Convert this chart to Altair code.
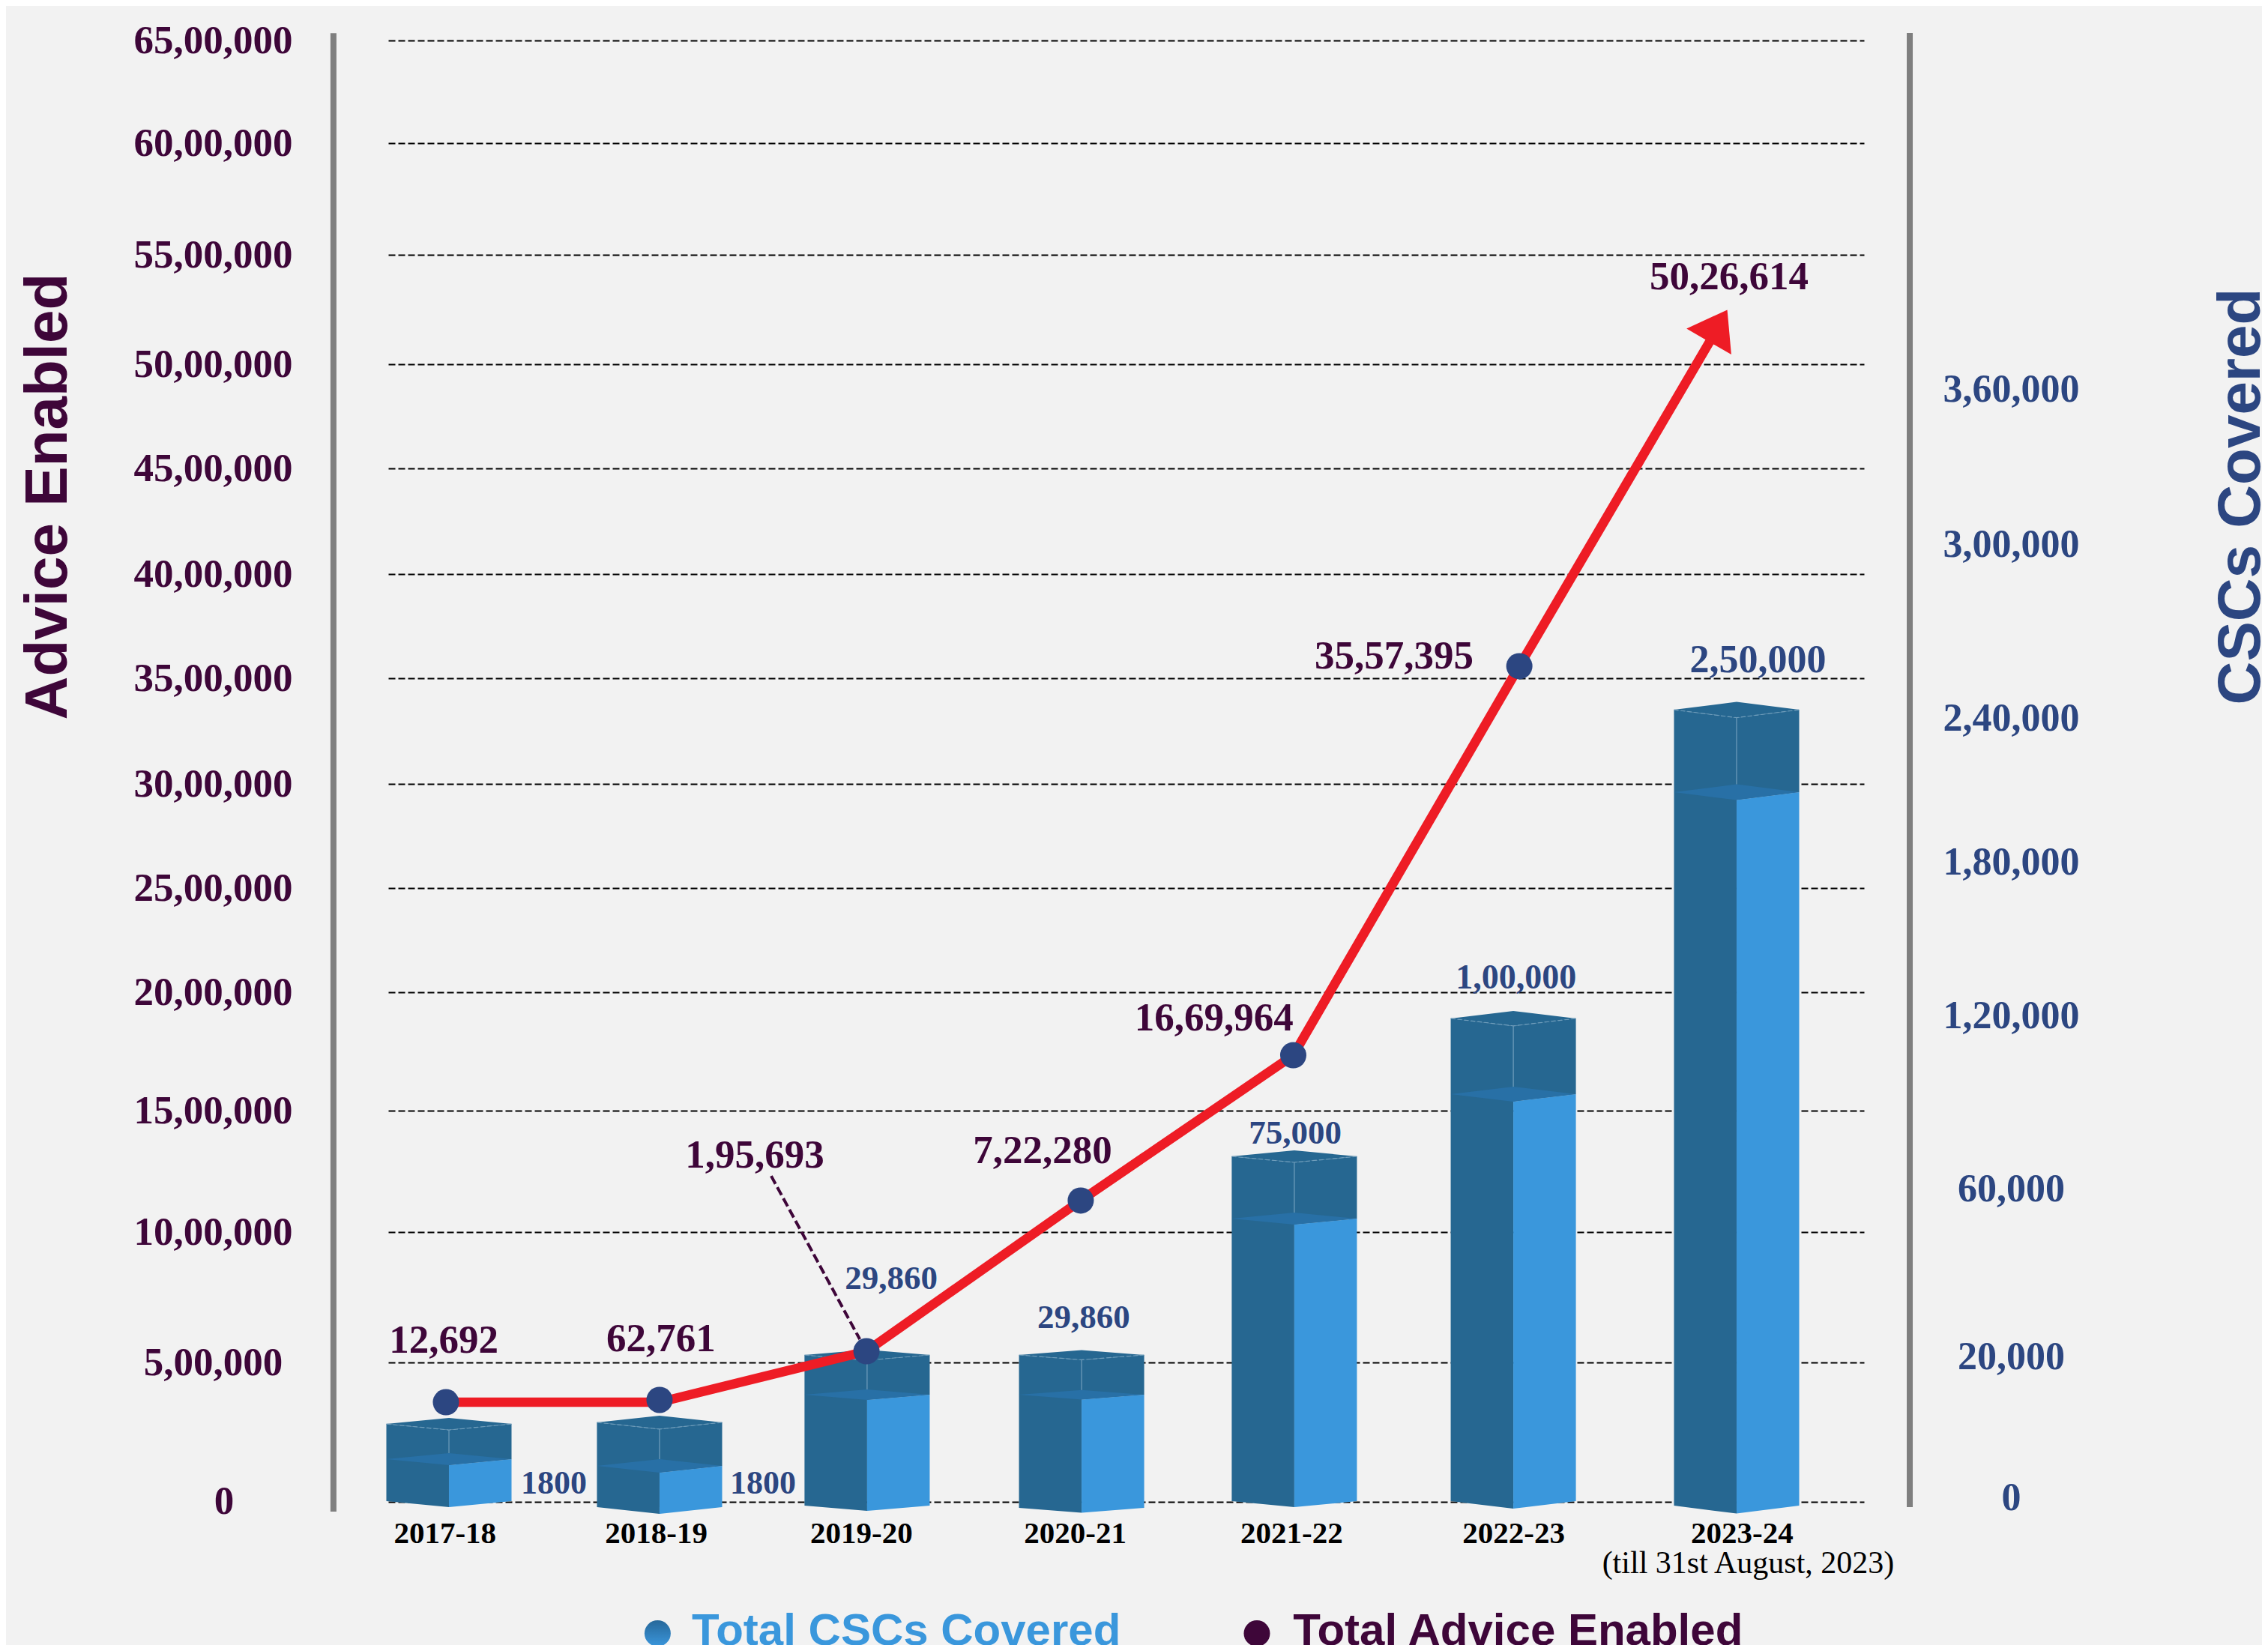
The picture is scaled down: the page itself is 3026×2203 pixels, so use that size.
import altair as alt
import pandas as pd

SERIF = "Liberation Serif"
SANS = "Liberation Sans"
PURPLE = "#3e0639"
NAVY = "#2c4681"
RED = "#ee1c25"
DARK = "#266791"
LIGHT = "#3a97dc"
MID = "#2870a6"
GRAY = "#7f7f7f"
BG = "#f2f2f2"

years = ["2017-18", "2018-19", "2019-20", "2020-21", "2021-22", "2022-23", "2023-24"]
year_pos = [-0.02, 0.962, 1.916, 2.91, 3.916, 4.948, 6.01]

left_ticks = [0, 500000, 1000000, 1500000, 2000000, 2500000, 3000000, 3500000, 4000000,
              4500000, 5000000, 5500000, 6000000, 6500000]
left_labels = ["", "5,00,000", "10,00,000", "15,00,000", "20,00,000", "25,00,000", "30,00,000",
               "35,00,000", "40,00,000", "45,00,000", "50,00,000", "55,00,000", "60,00,000", "65,00,000"]
left_range = [1950, 1764, 1590, 1428, 1270, 1131, 992, 851, 712, 571, 432, 286, 137, 0]

right_ticks = [0, 20000, 60000, 120000, 180000, 240000, 300000, 360000]
right_labels = ["0", "20,000", "60,000", "1,20,000", "1,80,000", "2,40,000", "3,00,000", "3,60,000"]
right_range = [1944, 1756, 1532, 1301, 1096, 904, 672, 465]

# bar geometry, heights in percent of plot height
bar_center = [0, 0.979, 1.944, 2.941, 3.93, 4.948, 5.986]
bar_half = [0.291] * 7
bar_top = [5.33, 5.44, 10.05, 10.05, 23.64, 33.08, 54.2]
bar_fill = [2.92, 2.46, 7.33, 7.33, 19.38, 27.9, 48.56]
bar_base = [0.05, -0.36, -0.26, -0.41, 0.05, 0.05, -0.26]
bar_slant = [0.41, 0.46, 0.36, 0.33, 0.41, 0.51, 0.54]

# line, positions read on the left axis
line_x = [-0.014, 0.979, 1.941, 2.937, 3.925, 4.976, 5.861]
line_y = [357500, 357500, 543000, 1130000, 1734000, 3558000, 5103000]
point_x = [-0.014, 0.979, 1.941, 2.937, 3.925, 4.976]
point_y = [357500, 365600, 543000, 1130000, 1734000, 3558000]
arrow_x = [5.9]
arrow_y = [5176000]
leader_x = [1.498, 1.91]
leader_y = [1231000, 589000]

advice_text = ["12,692", "62,761", "1,95,693", "7,22,280", "16,69,964", "35,57,395", "50,26,614"]
advice_x = [-0.024, 0.986, 1.422, 2.76, 3.557, 4.394, 5.951]
advice_h = [11.03, 11.13, 23.69, 24.0, 33.08, 57.85, 83.82]

csc_text = ["1800", "1800", "29,860", "29,860", "75,000", "1,00,000", "2,50,000"]
csc_x = [0.488, 1.46, 2.056, 2.951, 3.934, 4.961, 6.085]
csc_h = [1.23, 1.23, 15.28, 12.62, 25.23, 35.85, 57.6]
csc_size = [44, 44, 45, 45, 45, 46, 52]

x_scale = alt.Scale(domain=[-0.2822, 6.5784], range=[0, 1969], nice=False, zero=False)
h_scale = alt.Scale(domain=[0, 100], range=[1950, 0], nice=False, zero=False)
l_scale = alt.Scale(domain=left_ticks, range=left_range, nice=False, zero=False)
r_scale = alt.Scale(domain=right_ticks, range=right_range, nice=False, zero=False)


def js_list(items):
    return "[" + ",".join("'" + s + "'" for s in items) + "]"


x_axis = alt.Axis(
    title=None, values=year_pos, labelExpr=f"{js_list(years)}[round(datum.index*6)]",
    domain=False, ticks=False, grid=False, labelFont=SERIF, labelFontWeight="bold",
    labelFontSize=41, labelColor="#000000", labelPadding=22, labelOverlap=False,
    labelBound=False, labelFlush=False, labelLimit=1000)
left_axis = alt.Axis(
    title="Advice Enabled", values=left_ticks,
    labelExpr=f"{js_list(left_labels)}[round(datum.index*13)]",
    domain=False, ticks=False, grid=True, gridColor="#000000", gridWidth=2, gridDash=[9, 4],
    labelFont=SERIF, labelFontWeight="bold", labelFontSize=53, labelColor=PURPLE,
    labelAlign="center", labelBaseline="middle", labelPadding=234, labelOverlap=False,
    labelBound=False, labelFlush=False, labelLimit=1000,
    titleFont=SANS, titleFontWeight="bold", titleFontSize=80, titleColor=PURPLE,
    titleAngle=270, titleX=-454, titleY=608, titleAlign="center", titleBaseline="middle",
    titleLimit=2000)
right_axis = alt.Axis(
    orient="right", title="CSCs Covered", values=right_ticks,
    labelExpr=f"{js_list(right_labels)}[round(datum.index*7)]",
    domain=False, ticks=False, grid=False,
    labelFont=SERIF, labelFontWeight="bold", labelFontSize=52, labelColor=NAVY,
    labelAlign="center", labelBaseline="middle", labelPadding=196, labelOverlap=False,
    labelBound=False, labelFlush=False, labelLimit=1000,
    titleFont=SANS, titleFontWeight="bold", titleFontSize=80, titleColor=NAVY,
    titleAngle=270, titleX=503, titleY=608, titleAlign="center", titleBaseline="middle",
    titleLimit=2000)

X = alt.X("x:Q", scale=x_scale, axis=x_axis)
H = alt.Y("y:Q", scale=h_scale, axis=None)
L = alt.Y("y:Q", scale=l_scale, axis=left_axis)
R = alt.Y("y:Q", scale=r_scale, axis=right_axis)

# ---------- faces of the 3D columns
faces = []
def face(fid, fill, pts):
    for x, y, y2 in pts:
        faces.append({"face": fid, "fill": fill, "x": x, "y": y, "y2": y2})

edges = []
centres = []
for i in range(len(bar_center)):
    c, w, t, f, b, s = bar_center[i], bar_half[i], bar_top[i], bar_fill[i], bar_base[i], bar_slant[i]
    face(f"{i:02d}a", DARK, [(c - w, t, b), (c, t - s, b - s)])
    face(f"{i:02d}b", DARK, [(c, t - s, f - s), (c + w, t, f)])
    face(f"{i:02d}c", LIGHT, [(c, f - s, b - s), (c + w, f, b)])
    face(f"{i:02d}d", DARK, [(c - w, t, t), (c, t + s, t - s), (c + w, t, t)])
    face(f"{i:02d}e", MID, [(c - w, f, f), (c, f + s, f - s), (c + w, f, f)])
    for x, y in [(c - w, t), (c, t - s), (c + w, t)]:
        edges.append({"bar": i, "x": x, "y": y})
    centres.append({"x": c, "y": t - s, "y2": f + s})

faces_df = pd.DataFrame(faces)

face_layer = alt.Chart(faces_df).mark_area(opacity=1, strokeWidth=0).encode(
    x=X, y=H, y2="y2:Q",
    color=alt.Color("fill:N", scale=None),
    detail="face:N",
)

edge_layer = alt.Chart(pd.DataFrame(edges)).mark_line(
    color="#6f9dbb", strokeWidth=1.2, strokeDash=[6, 3]).encode(x=X, y=H, detail="bar:N")
centre_layer = alt.Chart(pd.DataFrame(centres)).mark_rule(
    color="#6f9dbb", strokeWidth=1.2).encode(x=X, y=H, y2="y2:Q")


def texts(txt, xs, hs, size, color, font=SERIF, weight="bold", align="center"):
    df = pd.DataFrame({"t": txt, "x": xs, "y": hs})
    return alt.Chart(df).mark_text(font=font, fontWeight=weight, fontSize=size, color=color,
                                   align=align, baseline="middle").encode(x=X, y=H, text="t:N")


label_layers = [texts([t], [x], [h], sz, NAVY) for t, x, h, sz in zip(csc_text, csc_x, csc_h, csc_size)]
label_layers.append(texts(advice_text, advice_x, advice_h, 53, PURPLE))
label_layers.append(texts(["0"], [-1.045], [0], 53, PURPLE))
label_layers.append(texts(["(till 31st August, 2023)"], [6.04], [-4.2], 42, "#000000", weight="normal"))
label_layers.append(texts(["Total CSCs Covered"], [1.129], [-8.85], 60, LIGHT, font=SANS, align="left"))
label_layers.append(texts(["Total Advice Enabled"], [3.924], [-8.85], 60, PURPLE, font=SANS, align="left"))

legend_dot1 = alt.Chart(pd.DataFrame({"x": [0.97], "y": [-9.0]})).mark_circle(
    size=1225, opacity=1,
    color={"gradient": "linear", "x1": 0, "y1": 0, "x2": 0, "y2": 1,
           "stops": [{"offset": 0, "color": "#27689a"}, {"offset": 1, "color": "#3a96dc"}]},
).encode(x=X, y=H)
legend_dot2 = alt.Chart(pd.DataFrame({"x": [3.756], "y": [-9.0]})).mark_circle(
    size=1225, opacity=1, color=PURPLE).encode(x=X, y=H)

bars_group = alt.layer(face_layer, edge_layer, centre_layer, *label_layers, legend_dot1, legend_dot2)

# ---------- left axis, line
left_rule = alt.Chart(pd.DataFrame({"x": [-0.537], "y": [-34900], "y2": [6536000]})).mark_rule(
    color=GRAY, strokeWidth=8).encode(x=X, y=L, y2="y2:Q")

line_layer = alt.Chart(pd.DataFrame({"x": line_x, "y": line_y})).mark_line(
    color=RED, strokeWidth=12.5, strokeJoin="miter").encode(x=X, y=L)
leader_layer = alt.Chart(pd.DataFrame({"x": leader_x, "y": leader_y})).mark_line(
    color=PURPLE, strokeWidth=4, strokeDash=[12, 5]).encode(x=X, y=L)
point_layer = alt.Chart(pd.DataFrame({"x": point_x, "y": point_y})).mark_circle(
    size=1225, opacity=1, color=NAVY).encode(x=X, y=L)
arrow_layer = alt.Chart(pd.DataFrame({"x": arrow_x, "y": arrow_y})).mark_point(
    shape="M-1,0.71L0,-0.71L1,0.71Z", filled=True, size=4761, angle=30, color=RED, opacity=1, strokeWidth=0
).encode(x=X, y=L)

left_group = alt.layer(left_rule, leader_layer, line_layer, arrow_layer, point_layer)

# ---------- right axis
right_rule = alt.Chart(pd.DataFrame({"x": [6.791], "y": [-1383], "y2": [497700]})).mark_rule(
    color=GRAY, strokeWidth=8).encode(x=X, y=R, y2="y2:Q")

chart = alt.layer(right_rule, bars_group, left_group).resolve_scale(y="independent").properties(
    width=1969, height=1950,
    padding={"left": 510, "top": 46, "right": 531, "bottom": 191},
    autosize=alt.AutoSizeParams(type="none"),
    background=BG,
).configure_view(stroke=None)

chart.save("out.html", embed_options={"renderer": "svg", "actions": False})
